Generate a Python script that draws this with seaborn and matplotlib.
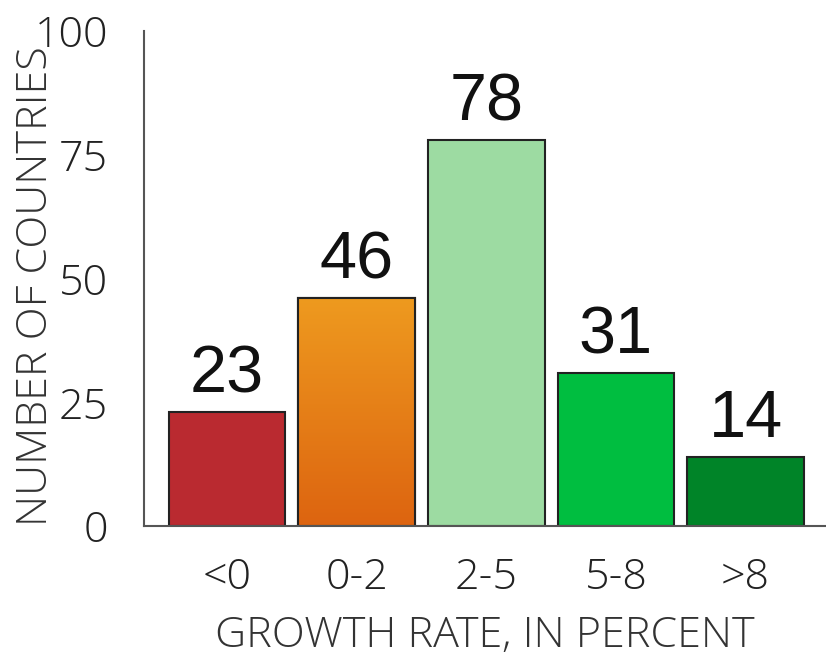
import matplotlib
matplotlib.use("Agg")
import matplotlib.pyplot as plt
import seaborn as sns
import numpy as np
import pandas as pd
from matplotlib.colors import LinearSegmentedColormap

categories = ["<0", "0-2", "2-5", "5-8", ">8"]
counts = [23, 46, 78, 31, 14]
colors = ["#BA2A30", "#E67E17", "#9DDBA2", "#00BE40", "#008428"]
yticks = [0, 25, 50, 75, 100]

sns.set_theme(style="white")
plt.rcParams["font.family"] = ["Open Sans", "DejaVu Sans"]

df = pd.DataFrame({"cat": categories, "n": counts})

fig = plt.figure(figsize=(8.26, 6.6), dpi=100)
ax = fig.add_axes([0.1743, 0.203, 0.8257, 0.750])

sns.barplot(data=df, x="cat", y="n", hue="cat", palette=colors, legend=False,
            saturation=1, width=0.9, edgecolor="#222222", linewidth=1.5, ax=ax)

# orange gradient on second bar
p = ax.patches[1]
x0, y0 = p.get_x(), p.get_y()
w, h = p.get_width(), p.get_height()
cmap = LinearSegmentedColormap.from_list("og", ["#DD6410", "#EE9A1F"])
grad = np.linspace(0, 1, 256).reshape(-1, 1)
im = ax.imshow(grad, cmap=cmap, origin="lower", aspect="auto",
               extent=[x0, x0 + w, y0, y0 + h], zorder=p.get_zorder() + 0.1)
im.set_clip_path(p)
ax.add_patch(plt.Rectangle((x0, y0), w, h, fill=False, edgecolor="#222222",
                           linewidth=1.5, zorder=p.get_zorder() + 0.2))

for i, v in enumerate(counts):
    ax.annotate(str(v), (i, v), xytext=(0, 14), textcoords="offset points",
                ha="center", va="baseline", fontsize=48,
                family=["Liberation Sans", "DejaVu Sans"], color="#111111")

ax.set_xlim(-0.64, 4.62)
ax.set_ylim(0, 100)
ax.set_yticks(yticks)
ax.set_yticklabels([str(t) for t in yticks])
ax.tick_params(axis="both", length=0, labelsize=31, colors="#222222")
ax.tick_params(axis="y", pad=26)
ax.tick_params(axis="x", pad=22)
for lab in ax.get_xticklabels() + ax.get_yticklabels():
    lab.set_fontweight(300)

ax.set_xlabel("GROWTH RATE, IN PERCENT", fontsize=31, color="#333333",
              fontweight=300, labelpad=11)
ax.set_ylabel("NUMBER OF COUNTRIES", fontsize=31, color="#333333",
              fontweight=300)
ax.yaxis.set_label_coords(-0.127, 0.485)

for s in ["top", "right"]:
    ax.spines[s].set_visible(False)
for s in ["left", "bottom"]:
    ax.spines[s].set_color("#555555")
    ax.spines[s].set_linewidth(1.5)

fig.savefig("out.png", dpi=100)
